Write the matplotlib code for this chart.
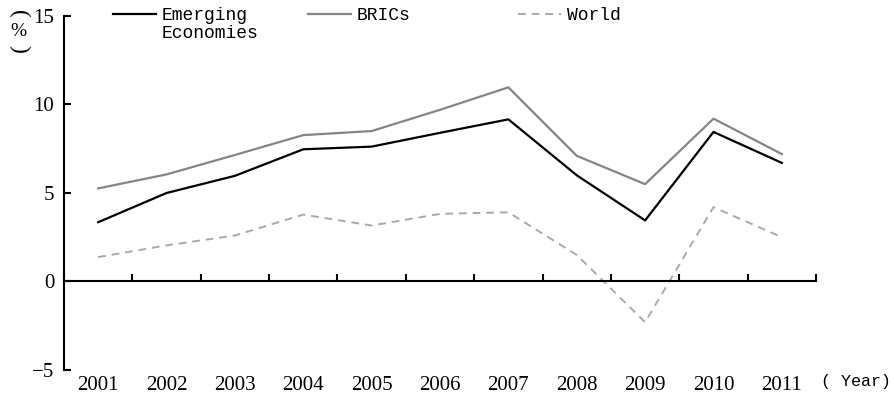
import numpy as np
import matplotlib
matplotlib.use("Agg")
import matplotlib.pyplot as plt

years = ['2001', '2002', '2003', '2004', '2005', '2006',
         '2007', '2008', '2009', '2010', '2011']
emerging = [3.35, 5.0, 5.97, 7.47, 7.62, 8.4, 9.16, 6.0, 3.45, 8.45, 6.7]
brics = [5.26, 6.05, 7.15, 8.27, 8.5, 9.7, 10.97, 7.1, 5.5, 9.2, 7.2]
world = [1.38, 2.04, 2.6, 3.78, 3.16, 3.82, 3.91, 1.5, -2.3, 4.2, 2.5]
yticks = [-5, 0, 5, 10, 15]

serif = 'Liberation Serif'
mono = 'Liberation Mono'

fig = plt.figure(figsize=(8.94, 3.99), dpi=100)
ax = fig.add_axes([0.0716, 0.0727, 0.8412, 0.8872])

x = np.arange(len(years))
l1, = ax.plot(x, emerging, color='black', lw=1.6)
l2, = ax.plot(x, brics, color='#858585', lw=1.6)
l3, = ax.plot(x, world, color='#aaaaaa', lw=1.4, ls=(0, (4, 3)))

ax.set_xlim(-0.5, len(years) - 0.5)
ax.set_ylim(-5, 15)

for s in ['top', 'right']:
    ax.spines[s].set_visible(False)
ax.spines['bottom'].set_position(('data', 0))
ax.spines['bottom'].set_linewidth(1.5)
ax.spines['left'].set_linewidth(1.5)

# ticks between categories on the zero line
ax.set_xticks(np.arange(len(years) + 1) - 0.5)
ax.tick_params(axis='x', direction='in', length=5, width=1.5, labelbottom=False)
ax.set_yticks(yticks)
ax.set_yticklabels([str(v).replace('-', '\u2212') for v in yticks])
ax.tick_params(axis='y', direction='in', length=5, width=1.5, pad=7)
for t in ax.get_yticklabels():
    t.set_fontfamily(serif)
    t.set_fontsize(15)

# year labels below the plot
for i, yr in enumerate(years):
    ax.text(i, -0.018, yr, transform=ax.get_xaxis_transform(), ha='center', va='top',
            fontfamily=serif, fontsize=15)
fig.text(0.918, 0.043, '( Year)', ha='left', va='center', fontfamily=mono, fontsize=12)

# vertical unit label
fig.text(0.021, 0.966, '(', rotation=-90, ha='center', va='center', fontfamily=serif, fontsize=17)
fig.text(0.021, 0.922, '%', ha='center', va='center', fontfamily=serif, fontsize=14)
fig.text(0.021, 0.878, ')', rotation=-90, ha='center', va='center', fontfamily=serif, fontsize=17)

# legends
entries = [(l1, 'Emerging', 0.1264), (l2, 'BRICs', 0.3445), (l3, 'World', 0.5794)]
legs = []
for h, lab, xpos in entries:
    leg = fig.legend([h], [lab], loc='upper left', bbox_to_anchor=(xpos, 0.982),
                     frameon=False, borderpad=0, borderaxespad=0, handlelength=2.4,
                     handletextpad=0.3, prop={'family': mono, 'size': 13})
    legs.append(leg)

# second line of the first legend label
fig.canvas.draw()
bb = legs[0].get_texts()[0].get_window_extent().transformed(fig.transFigure.inverted())
fig.text(bb.x0, bb.y0 - 0.003, 'Economies', ha='left', va='top', fontfamily=mono, fontsize=13)

fig.savefig('out.png', dpi=100)
